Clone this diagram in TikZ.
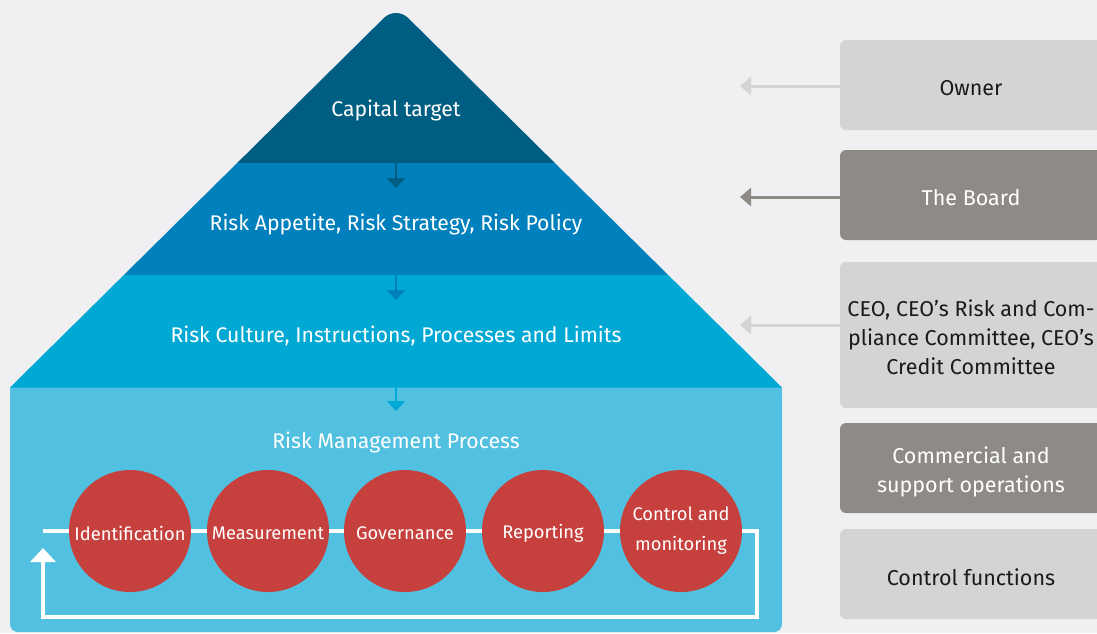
\documentclass[tikz,border=0pt]{standalone}
\usepackage{fontspec}
\setmainfont{Fira Sans}
\usetikzlibrary{arrows.meta}
\definecolor{bg}{HTML}{F0F0F2}
\definecolor{bandA}{HTML}{005E83}
\definecolor{bandB}{HTML}{0080BD}
\definecolor{bandC}{HTML}{00A8D4}
\definecolor{boxC}{HTML}{52C0E0}
\definecolor{redC}{HTML}{C6413D}
\definecolor{lgray}{HTML}{D4D4D4}
\definecolor{dgray}{HTML}{8E8B86}
\definecolor{txt}{HTML}{1A1A1A}
\tikzset{
  bandlabel/.style={text=white, font=\fontsize{21.2}{29}\selectfont},
  stepcirc/.style={shape=circle, fill=redC, minimum size=122pt, inner sep=0pt, text=white, align=center, font=\fontsize{18.3}{30}\selectfont},
  lightbox/.style={fill=lgray, rounded corners=6pt, minimum width=262pt, inner sep=0pt},
  darkbox/.style={fill=dgray, rounded corners=6pt, minimum width=262pt, inner sep=0pt},
  boxtext/.style={align=center, inner sep=0pt, font=\fontsize{21.5}{29}\selectfont},
  downarrow/.style={line width=2.5pt, -{Triangle[width=18pt,length=10pt]}},
  sidearrow/.style={line width=3pt, -{Triangle[width=18pt,length=11pt]}},
  loopline/.style={white, line width=3.5pt}
}
\begin{document}
\begin{tikzpicture}[x=1pt,y=-1pt]
\fill[bg] (0,0) rectangle (1097,633);
\useasboundingbox (0,0) rectangle (1097,633);
% box of the house
\fill[boxC, rounded corners=8pt] (10,387) rectangle (782,632);
\fill[boxC] (10,387) rectangle (782,410);
% roof
\begin{scope}
\clip (10,387.5) [rounded corners=17pt]-- (396,6) [sharp corners]-- (782,387.5) -- cycle;
\fill[bandA] (0,0) rectangle (1097,163);
\fill[bandB] (0,163) rectangle (1097,275);
\fill[bandC] (0,275) rectangle (1097,387.5);
\end{scope}
% labels
\node[bandlabel] (cap) at (396,110) {Capital target};
\node[bandlabel] (app) at (396,224) {Risk Appetite, Risk Strategy, Risk Policy};
\node[bandlabel] (cul) at (396,336) {Risk Culture, Instructions, Processes and Limits};
\node[bandlabel] (rmp) at (396,442) {Risk Management Process};
% down arrows
\coordinate (a1s) at (396,162);
\coordinate (a1e) at (396,188);
\coordinate (a2s) at (396,274);
\coordinate (a2e) at (396,300);
\coordinate (a3s) at (396,386);
\coordinate (a3e) at (396,411);
\draw[downarrow, bandA] (a1s) -- (a1e);
\draw[downarrow, bandB] (a2s) -- (a2e);
\draw[downarrow, bandC] (a3s) -- (a3e);
% loop
\coordinate (ls) at (43,531);
\coordinate (lr) at (757,531);
\coordinate (lb) at (757,617);
\coordinate (lbl) at (43,617);
\coordinate (lend) at (43,548);
\node[stepcirc] (idn) at (130,531) {};
\node[stepcirc] (mea) at (268,531) {};
\node[stepcirc] (gov) at (405,531) {};
\node[stepcirc] (rep) at (543,531) {};
\node[stepcirc] (ctl) at (681,531) {};
\draw[loopline] (ls) -- (idn.west);
\draw[loopline] (idn.east) -- (mea.west);
\draw[loopline] (mea.east) -- (gov.west);
\draw[loopline] (gov.east) -- (rep.west);
\draw[loopline] (rep.east) -- (ctl.west);
\draw[loopline, -{Triangle[width=25pt,length=14pt]}] (ctl.east) -- (lr) -- (lb) -- (lbl) -- (lend);
\node[stepcirc, fill=none] (idnt) at (130,533) {Identification};
\node[stepcirc, fill=none] (meat) at (268,533) {Measurement};
\node[stepcirc, fill=none] (govt) at (405,533) {Governance};
\node[stepcirc, fill=none] (rept) at (543,533) {Reporting};
\node[stepcirc, fill=none] (ctlt) at (681,531) {Control and\\monitoring};
% right boxes
\node[lightbox, minimum height=90pt] (own) at (971,85) {};
\node[darkbox, minimum height=90pt] (brd) at (971,195) {};
\node[lightbox, minimum height=146pt] (ceo) at (971,335) {};
\node[darkbox, minimum height=90pt] (com) at (971,468) {};
\node[lightbox, minimum height=90pt] (ctf) at (971,574) {};
\node[boxtext, text=txt] (ownt) at (971,88) {Owner};
\node[boxtext, text=white] (brdt) at (971,197.5) {The Board};
\node[boxtext, text=txt] (ceot) at (971,337.5) {CEO, CEO’s Risk and Com-\\pliance Committee, CEO’s\\Credit Committee};
\node[boxtext, text=white] (comt) at (971,471.5) {Commercial and\\support operations};
\node[boxtext, text=txt] (ctft) at (971,577) {Control functions};
\coordinate (t1) at (740,86);
\coordinate (t2) at (740,197);
\coordinate (t3) at (740,325);
\draw[sidearrow, lgray] ([yshift=-1pt]own.west) -- (t1);
\draw[sidearrow, dgray] ([yshift=-2pt]brd.west) -- (t2);
\draw[sidearrow, lgray] ([yshift=10pt]ceo.west) -- (t3);
\end{tikzpicture}
\end{document}
